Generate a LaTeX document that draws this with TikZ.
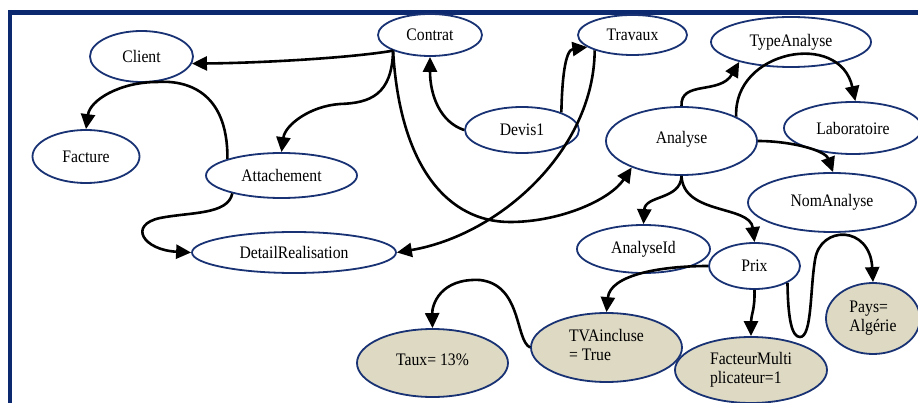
\documentclass[tikz,border=0pt]{standalone}
\usepackage{fontspec}
\setmainfont{Liberation Serif}
\usepackage{graphicx}
\usetikzlibrary{shapes.geometric,arrows.meta}
\definecolor{navy}{RGB}{24,50,115}
\definecolor{framec}{RGB}{12,40,110}
\definecolor{beige}{RGB}{221,217,195}
\newcommand{\vs}[1]{\scalebox{1}[1.12]{#1}}
\newcommand{\vt}[2]{\scalebox{1}[1.12]{\begin{tabular}{@{}l@{}}#1\\#2\end{tabular}}}
\begin{document}
\begin{tikzpicture}[x=1pt,y=-1pt,
  ent/.style={ellipse, draw=navy, line width=1.8pt, fill=white, inner sep=0pt,
    font=\fontsize{15.7}{16.7}\selectfont},
  val/.style={ent, fill=beige},
  conn/.style={line width=2.6pt, -{Triangle[length=15pt,width=14pt]}}]
\useasboundingbox (0,0) rectangle (918,403);
\fill[white] (0,0) rectangle (918,403);
\clip (0,0) rectangle (918,403);
\draw[framec, line width=4.5pt] (9.8,12.5) rectangle (1100,600);

% nodes
\node[ent, minimum width=104pt, minimum height=42pt] (contrat) at (430,35) {\vs{Contrat}};
\node[ent, minimum width=103pt, minimum height=51pt] (client) at (141.5,56.5) {\vs{Client}};
\node[ent, minimum width=107pt, minimum height=53pt] (facture) at (86,156.5) {\vs{Facture}};
\node[ent, minimum width=151pt, minimum height=45pt] (attach) at (281.5,175.5) {\vs{Attachement}};
\node[ent, minimum width=204pt, minimum height=41pt] (detail) at (294,252.5) {\vs{DetailRealisation}};
\node[ent, minimum width=109pt, minimum height=40pt] (travaux) at (632.5,35) {\vs{Travaux}};
\node[ent, minimum width=114pt, minimum height=46pt] (devis) at (522,130) {\vs{Devis1}};
\node[ent, minimum width=160pt, minimum height=50pt] (typea) at (791,42) {\raisebox{2pt}{\vs{TypeAnalyse}}};
\node[ent, minimum width=138pt, minimum height=52pt] (labo) at (853,128) {\vs{Laboratoire}};
\node[ent, minimum width=151pt, minimum height=68pt] (analyse) at (681.5,141) {\raisebox{7pt}{\vs{Analyse}}};
\node[ent, minimum width=168pt, minimum height=59pt] (noma) at (832,202.5) {\raisebox{2pt}{\vs{NomAnalyse}}};
\node[ent, minimum width=133pt, minimum height=48pt] (aid) at (643.5,249) {\vs{AnalyseId}};
\node[ent, minimum width=91pt, minimum height=46pt] (prix) at (754.5,266) {\vs{Prix}};
\node[val, minimum width=151pt, minimum height=69pt] (tva) at (606.5,347.5) {\vt{TVAincluse}{= True}};
\node[val, minimum width=152pt, minimum height=66pt] (fact) at (751,370) {\vt{FacteurMulti}{plicateur=1}};
\node[val, minimum width=94pt, minimum height=71pt] (pays) at (873,318.5) {\vt{Pays=}{Algérie}};
\node[val, minimum width=151pt, minimum height=68pt] (taux) at (432.5,363) {\raisebox{7pt}{\vs{Taux= 13\%}}};

% connectors
\draw[conn] (contrat.203) .. controls (350,58) and (260,63) .. (client.352);
\draw[conn] (contrat.203) .. controls (392,95) and (370,103) .. (340,104)
  .. controls (310,106) and (285,125) .. (attach.north);
\draw[conn] (contrat.203) .. controls (400,170) and (450,222) .. (510,222)
  .. controls (560,222) and (610,200) .. (analyse.208);
\draw[conn] (devis.west) .. controls (440,122) and (430,95) .. (contrat.south);
\draw[conn] (devis.24) .. controls (562,80) and (565,50) .. (travaux.195);
\draw[conn] (travaux.202) .. controls (594,150) and (500,235) .. (detail.east);
\draw[conn] (attach.163) .. controls (228,90) and (185,80) .. (157,82)
  .. controls (120,82) and (90,100) .. (facture.north);
\draw[conn] (attach.200) .. controls (228,215) and (190,212) .. (160,218)
  .. controls (128,225) and (143,250) .. (detail.west);
\draw[conn] (analyse.north) .. controls (680,80) and (720,95) .. (typea.201);
\draw[conn] (analyse.24) .. controls (733,50) and (840,30) .. (labo.85);
\draw[conn] (analyse.east) .. controls (790,141) and (825,150) .. (noma.88);
\draw[conn] (analyse.south) .. controls (681,200) and (645,195) .. (aid.north);
\draw[conn] (analyse.south) .. controls (683,215) and (750,205) .. (prix.north);
\draw[conn] (prix.west) .. controls (660,266) and (610,275) .. (tva.north);
\draw[conn] (prix.south) .. controls (755,310) and (751,315) .. (fact.north);
\draw[conn] (prix.333) .. controls (788,320) and (792,337) .. (800,337)
  .. controls (812,337) and (810,290) .. (815,260)
  .. controls (820,225) and (870,225) .. (pays.north);
\draw[conn] (tva.west) .. controls (515,340) and (522,285) .. (480,280)
  .. controls (440,278) and (432,305) .. (taux.north);
\end{tikzpicture}
\end{document}
